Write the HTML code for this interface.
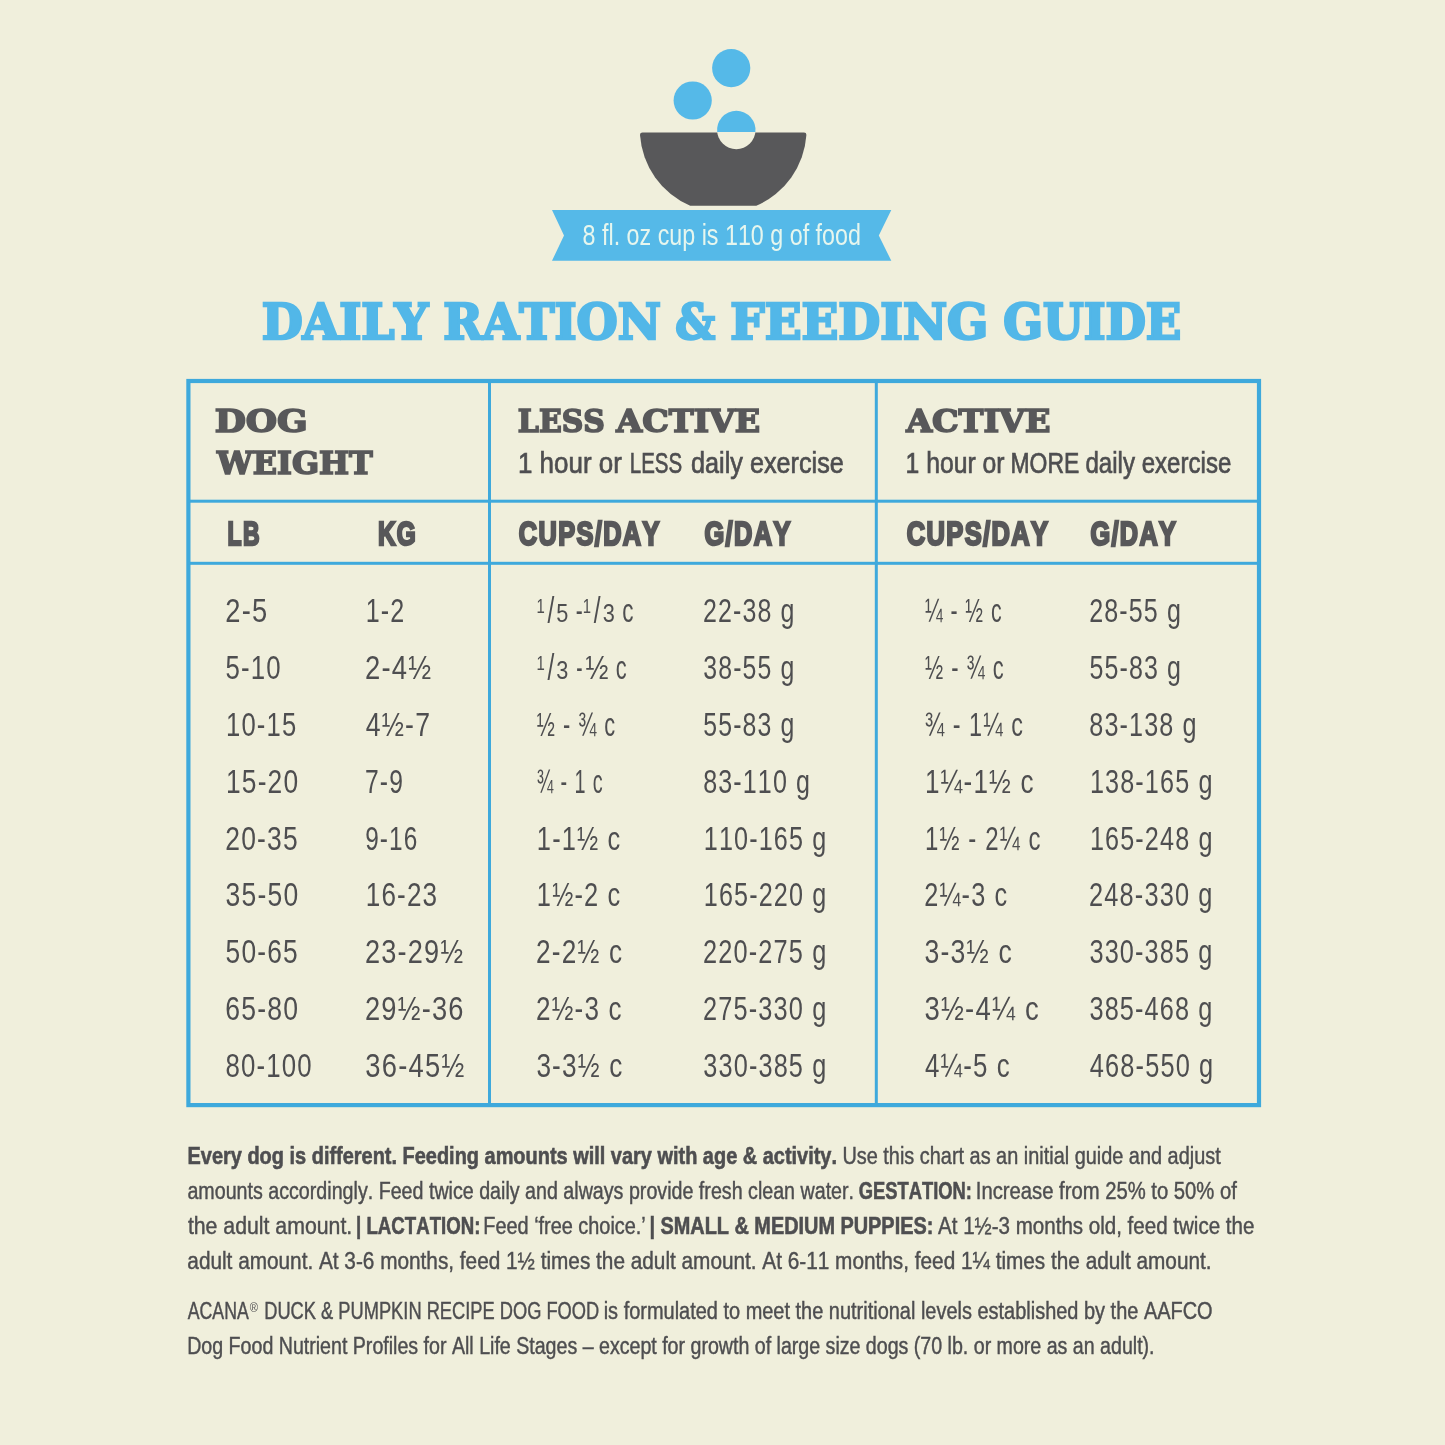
<!DOCTYPE html>
<html lang="en"><head><meta charset="utf-8"><title>Daily Ration &amp; Feeding Guide</title>
<style>
html,body{margin:0;padding:0;background:#f0efdc;}
svg{display:block;}
text{font-kerning:none;white-space:pre;}
.s{font-family:"Liberation Sans",sans-serif;font-weight:400;}
.b{font-family:"Liberation Sans",sans-serif;font-weight:700;}
.k{font-family:"DejaVu Serif","Liberation Serif",serif;font-weight:700;}
</style></head><body>
<svg width="1445" height="1445" viewBox="0 0 1445 1445">
<rect width="1445" height="1445" fill="#f0efdc"/>
<circle cx="731.2" cy="68.1" r="19.1" fill="#55b9e8"/>
<circle cx="692.7" cy="100.5" r="19.1" fill="#55b9e8"/>
<path d="M642.5 132.6 H804 Q806.5 132.6 806.4 135 A83.3 83.3 0 0 1 756.3 205.8 H690.2 A83.3 83.3 0 0 1 640 135 Q639.9 132.6 642.5 132.6 Z" fill="#58585a"/>
<circle cx="736.3" cy="130" r="19.2" fill="#f0efdc"/>
<path d="M717.22 132.1 A19.2 19.2 0 1 1 755.38 132.1 Z" fill="#55b9e8"/>
<path d="M552 209.9 H891.3 L878.8 235.4 L891.3 260.8 H552 L564 235.4 Z" fill="#55b9e8"/>
<text class="s" x="582.59" y="244.70" font-size="30.4" textLength="278.31" lengthAdjust="spacingAndGlyphs" fill="#e6f6ee">8 fl. oz cup is 110 g of food</text>
<text class="k" x="261.64" y="338.55" font-size="47.599451303155014" textLength="166.68" lengthAdjust="spacingAndGlyphs" fill="#52b7e8" stroke="#52b7e8" stroke-width="2.5" stroke-linejoin="miter">DAILY</text>
<text class="k" x="443.33" y="338.55" font-size="47.599451303155014" textLength="217.61" lengthAdjust="spacingAndGlyphs" fill="#52b7e8" stroke="#52b7e8" stroke-width="2.5" stroke-linejoin="miter">RATION</text>
<text class="k" x="675.18" y="338.55" font-size="47.599451303155014" textLength="39.97" lengthAdjust="spacingAndGlyphs" fill="#52b7e8" stroke="#52b7e8" stroke-width="2.5" stroke-linejoin="miter">&amp;</text>
<text class="k" x="730.38" y="338.55" font-size="47.599451303155014" textLength="257.99" lengthAdjust="spacingAndGlyphs" fill="#52b7e8" stroke="#52b7e8" stroke-width="2.5" stroke-linejoin="miter">FEEDING</text>
<text class="k" x="1003.30" y="338.55" font-size="47.599451303155014" textLength="177.94" lengthAdjust="spacingAndGlyphs" fill="#52b7e8" stroke="#52b7e8" stroke-width="2.5" stroke-linejoin="miter">GUIDE</text>
<rect x="188.4" y="381" width="1070.6" height="724.1" fill="none" stroke="#3ea9dc" stroke-width="4.2"/>
<rect x="488.0" y="381" width="3" height="724" fill="#3ea9dc"/>
<rect x="874.8" y="381" width="3" height="724" fill="#3ea9dc"/>
<rect x="188" y="499.7" width="1071" height="3" fill="#3ea9dc"/>
<rect x="188" y="561.8" width="1071" height="3" fill="#3ea9dc"/>
<text class="k" x="214.67" y="432.35" font-size="31.96" textLength="93.13" lengthAdjust="spacingAndGlyphs" fill="#58585a" stroke="#58585a" stroke-width="1.7" stroke-linejoin="miter">DOG</text>
<text class="k" x="217.13" y="473.55" font-size="31.55" textLength="155.65" lengthAdjust="spacingAndGlyphs" fill="#58585a" stroke="#58585a" stroke-width="1.7" stroke-linejoin="miter">WEIGHT</text>
<text class="k" x="517.85" y="432.35" font-size="31.96" textLength="87.10" lengthAdjust="spacingAndGlyphs" fill="#58585a" stroke="#58585a" stroke-width="1.7" stroke-linejoin="miter">LESS</text>
<text class="k" x="616.31" y="432.35" font-size="31.96" textLength="143.95" lengthAdjust="spacingAndGlyphs" fill="#58585a" stroke="#58585a" stroke-width="1.7" stroke-linejoin="miter">ACTIVE</text>
<text class="k" x="906.21" y="432.35" font-size="31.96" textLength="144.15" lengthAdjust="spacingAndGlyphs" fill="#58585a" stroke="#58585a" stroke-width="1.7" stroke-linejoin="miter">ACTIVE</text>
<text class="s" x="517.97" y="473.40" font-size="30.1" textLength="103.91" lengthAdjust="spacingAndGlyphs" fill="#4e4e50" stroke="#4e4e50" stroke-width="0.7">1 hour or</text>
<text class="s" x="629.77" y="473.40" font-size="30.1" textLength="52.42" lengthAdjust="spacingAndGlyphs" fill="#4e4e50" stroke="#4e4e50" stroke-width="0.7">LESS</text>
<text class="s" x="691.09" y="473.40" font-size="30.1" textLength="152.68" lengthAdjust="spacingAndGlyphs" fill="#4e4e50" stroke="#4e4e50" stroke-width="0.7">daily exercise</text>
<text class="s" x="905.57" y="473.40" font-size="30.1" textLength="98.99" lengthAdjust="spacingAndGlyphs" fill="#4e4e50" stroke="#4e4e50" stroke-width="0.7">1 hour or</text>
<text class="s" x="1010.47" y="473.40" font-size="30.1" textLength="68.77" lengthAdjust="spacingAndGlyphs" fill="#4e4e50" stroke="#4e4e50" stroke-width="0.7">MORE</text>
<text class="s" x="1085.44" y="473.40" font-size="30.1" textLength="145.88" lengthAdjust="spacingAndGlyphs" fill="#4e4e50" stroke="#4e4e50" stroke-width="0.7">daily exercise</text>
<text class="b" x="227.61" y="544.75" font-size="33.87" textLength="33.14" lengthAdjust="spacingAndGlyphs" fill="#58585a" stroke="#58585a" stroke-width="2.5" stroke-linejoin="miter" letter-spacing="1.86">LB</text>
<text class="b" x="377.92" y="544.75" font-size="33.87" textLength="39.29" lengthAdjust="spacingAndGlyphs" fill="#58585a" stroke="#58585a" stroke-width="2.5" stroke-linejoin="miter" letter-spacing="1.86">KG</text>
<text class="b" x="518.81" y="544.75" font-size="33.87" textLength="142.04" lengthAdjust="spacingAndGlyphs" fill="#58585a" stroke="#58585a" stroke-width="2.5" stroke-linejoin="miter" letter-spacing="1.86">CUPS/DAY</text>
<text class="b" x="704.41" y="544.75" font-size="33.87" textLength="87.35" lengthAdjust="spacingAndGlyphs" fill="#58585a" stroke="#58585a" stroke-width="2.5" stroke-linejoin="miter" letter-spacing="1.86">G/DAY</text>
<text class="b" x="906.71" y="544.75" font-size="33.87" textLength="142.75" lengthAdjust="spacingAndGlyphs" fill="#58585a" stroke="#58585a" stroke-width="2.5" stroke-linejoin="miter" letter-spacing="1.86">CUPS/DAY</text>
<text class="b" x="1090.41" y="544.75" font-size="33.87" textLength="86.93" lengthAdjust="spacingAndGlyphs" fill="#58585a" stroke="#58585a" stroke-width="2.5" stroke-linejoin="miter" letter-spacing="1.86">G/DAY</text>
<text class="s" x="225.23" y="622.15" font-size="33" textLength="43.15" lengthAdjust="spacingAndGlyphs" fill="#4e4e50" letter-spacing="1.48">2-5</text>
<text class="s" x="225.57" y="678.99" font-size="33" textLength="56.30" lengthAdjust="spacingAndGlyphs" fill="#4e4e50" letter-spacing="1.48">5-10</text>
<text class="s" x="226.05" y="735.83" font-size="33" textLength="71.28" lengthAdjust="spacingAndGlyphs" fill="#4e4e50" letter-spacing="1.48">10-15</text>
<text class="s" x="225.99" y="792.67" font-size="33" textLength="73.32" lengthAdjust="spacingAndGlyphs" fill="#4e4e50" letter-spacing="1.48">15-20</text>
<text class="s" x="225.27" y="849.51" font-size="33" textLength="73.63" lengthAdjust="spacingAndGlyphs" fill="#4e4e50" letter-spacing="1.48">20-35</text>
<text class="s" x="225.59" y="906.35" font-size="33" textLength="73.74" lengthAdjust="spacingAndGlyphs" fill="#4e4e50" letter-spacing="1.48">35-50</text>
<text class="s" x="225.54" y="963.19" font-size="33" textLength="73.35" lengthAdjust="spacingAndGlyphs" fill="#4e4e50" letter-spacing="1.48">50-65</text>
<text class="s" x="225.25" y="1020.03" font-size="33" textLength="73.99" lengthAdjust="spacingAndGlyphs" fill="#4e4e50" letter-spacing="1.48">65-80</text>
<text class="s" x="225.48" y="1076.87" font-size="33" textLength="87.29" lengthAdjust="spacingAndGlyphs" fill="#4e4e50" letter-spacing="1.48">80-100</text>
<text class="s" x="365.79" y="622.15" font-size="33" textLength="39.60" lengthAdjust="spacingAndGlyphs" fill="#4e4e50" letter-spacing="1.48">1-2</text>
<text class="s" x="364.92" y="678.99" font-size="33" textLength="67.45" lengthAdjust="spacingAndGlyphs" fill="#4e4e50" letter-spacing="1.48">2-4½</text>
<text class="s" x="365.69" y="735.83" font-size="33" textLength="65.45" lengthAdjust="spacingAndGlyphs" fill="#4e4e50" letter-spacing="1.48">4½-7</text>
<text class="s" x="365.04" y="792.67" font-size="33" textLength="38.94" lengthAdjust="spacingAndGlyphs" fill="#4e4e50" letter-spacing="1.48">7-9</text>
<text class="s" x="365.16" y="849.51" font-size="33" textLength="53.21" lengthAdjust="spacingAndGlyphs" fill="#4e4e50" letter-spacing="1.48">9-16</text>
<text class="s" x="365.72" y="906.35" font-size="33" textLength="72.50" lengthAdjust="spacingAndGlyphs" fill="#4e4e50" letter-spacing="1.48">16-23</text>
<text class="s" x="364.94" y="963.19" font-size="33" textLength="99.31" lengthAdjust="spacingAndGlyphs" fill="#4e4e50" letter-spacing="1.48">23-29½</text>
<text class="s" x="364.93" y="1020.03" font-size="33" textLength="99.79" lengthAdjust="spacingAndGlyphs" fill="#4e4e50" letter-spacing="1.48">29½-36</text>
<text class="s" x="365.26" y="1076.87" font-size="33" textLength="100.21" lengthAdjust="spacingAndGlyphs" fill="#4e4e50" letter-spacing="1.48">36-45½</text>
<text class="s" x="536.81" y="735.83" font-size="33" textLength="79.35" lengthAdjust="spacingAndGlyphs" fill="#4e4e50" letter-spacing="1.48">½ - ¾ c</text>
<text class="s" x="536.69" y="792.67" font-size="33" textLength="66.82" lengthAdjust="spacingAndGlyphs" fill="#4e4e50" letter-spacing="1.48">¾ - 1 c</text>
<text class="s" x="536.86" y="849.51" font-size="33" textLength="84.55" lengthAdjust="spacingAndGlyphs" fill="#4e4e50" letter-spacing="1.48">1-1½ c</text>
<text class="s" x="536.86" y="906.35" font-size="33" textLength="84.55" lengthAdjust="spacingAndGlyphs" fill="#4e4e50" letter-spacing="1.48">1½-2 c</text>
<text class="s" x="536.08" y="963.19" font-size="33" textLength="87.08" lengthAdjust="spacingAndGlyphs" fill="#4e4e50" letter-spacing="1.48">2-2½ c</text>
<text class="s" x="536.09" y="1020.03" font-size="33" textLength="86.57" lengthAdjust="spacingAndGlyphs" fill="#4e4e50" letter-spacing="1.48">2½-3 c</text>
<text class="s" x="536.40" y="1076.87" font-size="33" textLength="87.06" lengthAdjust="spacingAndGlyphs" fill="#4e4e50" letter-spacing="1.48">3-3½ c</text>
<text class="s" x="703.05" y="622.15" font-size="33" textLength="92.38" lengthAdjust="spacingAndGlyphs" fill="#4e4e50" letter-spacing="1.48">22-38 g</text>
<text class="s" x="703.35" y="678.99" font-size="33" textLength="92.06" lengthAdjust="spacingAndGlyphs" fill="#4e4e50" letter-spacing="1.48">38-55 g</text>
<text class="s" x="703.30" y="735.83" font-size="33" textLength="92.12" lengthAdjust="spacingAndGlyphs" fill="#4e4e50" letter-spacing="1.48">55-83 g</text>
<text class="s" x="703.21" y="792.67" font-size="33" textLength="107.93" lengthAdjust="spacingAndGlyphs" fill="#4e4e50" letter-spacing="1.48">83-110 g</text>
<text class="s" x="703.78" y="849.51" font-size="33" textLength="123.57" lengthAdjust="spacingAndGlyphs" fill="#4e4e50" letter-spacing="1.48">110-165 g</text>
<text class="s" x="703.78" y="906.35" font-size="33" textLength="123.57" lengthAdjust="spacingAndGlyphs" fill="#4e4e50" letter-spacing="1.48">165-220 g</text>
<text class="s" x="703.03" y="963.19" font-size="33" textLength="124.35" lengthAdjust="spacingAndGlyphs" fill="#4e4e50" letter-spacing="1.48">220-275 g</text>
<text class="s" x="703.03" y="1020.03" font-size="33" textLength="124.35" lengthAdjust="spacingAndGlyphs" fill="#4e4e50" letter-spacing="1.48">275-330 g</text>
<text class="s" x="703.34" y="1076.87" font-size="33" textLength="124.03" lengthAdjust="spacingAndGlyphs" fill="#4e4e50" letter-spacing="1.48">330-385 g</text>
<text class="s" x="924.92" y="622.15" font-size="33" textLength="77.60" lengthAdjust="spacingAndGlyphs" fill="#4e4e50" letter-spacing="1.48">¼ - ½ c</text>
<text class="s" x="924.90" y="678.99" font-size="33" textLength="79.76" lengthAdjust="spacingAndGlyphs" fill="#4e4e50" letter-spacing="1.48">½ - ¾ c</text>
<text class="s" x="924.67" y="735.83" font-size="33" textLength="99.30" lengthAdjust="spacingAndGlyphs" fill="#4e4e50" letter-spacing="1.48">¾ - 1¼ c</text>
<text class="s" x="924.91" y="792.67" font-size="33" textLength="109.75" lengthAdjust="spacingAndGlyphs" fill="#4e4e50" letter-spacing="1.48">1¼-1½ c</text>
<text class="s" x="925.07" y="849.51" font-size="33" textLength="116.54" lengthAdjust="spacingAndGlyphs" fill="#4e4e50" letter-spacing="1.48">1½ - 2¼ c</text>
<text class="s" x="924.23" y="906.35" font-size="33" textLength="84.07" lengthAdjust="spacingAndGlyphs" fill="#4e4e50" letter-spacing="1.48">2¼-3 c</text>
<text class="s" x="924.49" y="963.19" font-size="33" textLength="88.41" lengthAdjust="spacingAndGlyphs" fill="#4e4e50" letter-spacing="1.48">3-3½ c</text>
<text class="s" x="924.45" y="1020.03" font-size="33" textLength="115.61" lengthAdjust="spacingAndGlyphs" fill="#4e4e50" letter-spacing="1.48">3½-4¼ c</text>
<text class="s" x="924.91" y="1076.87" font-size="33" textLength="86.04" lengthAdjust="spacingAndGlyphs" fill="#4e4e50" letter-spacing="1.48">4¼-5 c</text>
<text class="s" x="1089.14" y="622.15" font-size="33" textLength="92.90" lengthAdjust="spacingAndGlyphs" fill="#4e4e50" letter-spacing="1.48">28-55 g</text>
<text class="s" x="1089.40" y="678.99" font-size="33" textLength="92.64" lengthAdjust="spacingAndGlyphs" fill="#4e4e50" letter-spacing="1.48">55-83 g</text>
<text class="s" x="1089.31" y="735.83" font-size="33" textLength="108.45" lengthAdjust="spacingAndGlyphs" fill="#4e4e50" letter-spacing="1.48">83-138 g</text>
<text class="s" x="1089.88" y="792.67" font-size="33" textLength="123.68" lengthAdjust="spacingAndGlyphs" fill="#4e4e50" letter-spacing="1.48">138-165 g</text>
<text class="s" x="1089.88" y="849.51" font-size="33" textLength="123.68" lengthAdjust="spacingAndGlyphs" fill="#4e4e50" letter-spacing="1.48">165-248 g</text>
<text class="s" x="1089.12" y="906.35" font-size="33" textLength="124.45" lengthAdjust="spacingAndGlyphs" fill="#4e4e50" letter-spacing="1.48">248-330 g</text>
<text class="s" x="1089.44" y="963.19" font-size="33" textLength="124.13" lengthAdjust="spacingAndGlyphs" fill="#4e4e50" letter-spacing="1.48">330-385 g</text>
<text class="s" x="1089.44" y="1020.03" font-size="33" textLength="124.13" lengthAdjust="spacingAndGlyphs" fill="#4e4e50" letter-spacing="1.48">385-468 g</text>
<text class="s" x="1089.82" y="1076.87" font-size="33" textLength="124.56" lengthAdjust="spacingAndGlyphs" fill="#4e4e50" letter-spacing="1.48">468-550 g</text>
<text class="s" x="536.47" y="612.95" font-size="20.5" textLength="8.26" lengthAdjust="spacingAndGlyphs" fill="#4e4e50">1</text>
<text class="s" x="547.40" y="623.45" font-size="36" textLength="6.80" lengthAdjust="spacingAndGlyphs" fill="#4e4e50">/</text>
<text class="s" x="556.23" y="622.15" font-size="26" textLength="12.08" lengthAdjust="spacingAndGlyphs" fill="#4e4e50">5</text>
<text class="s" x="575.77" y="622.15" font-size="33" textLength="6.96" lengthAdjust="spacingAndGlyphs" fill="#4e4e50">-</text>
<text class="s" x="582.87" y="612.95" font-size="20.5" textLength="8.26" lengthAdjust="spacingAndGlyphs" fill="#4e4e50">1</text>
<text class="s" x="593.80" y="623.45" font-size="36" textLength="6.80" lengthAdjust="spacingAndGlyphs" fill="#4e4e50">/</text>
<text class="s" x="602.67" y="622.15" font-size="26" textLength="12.08" lengthAdjust="spacingAndGlyphs" fill="#4e4e50">3</text>
<text class="s" x="622.24" y="622.15" font-size="33" textLength="11.25" lengthAdjust="spacingAndGlyphs" fill="#4e4e50">c</text>
<text class="s" x="536.47" y="669.79" font-size="20.5" textLength="8.26" lengthAdjust="spacingAndGlyphs" fill="#4e4e50">1</text>
<text class="s" x="547.40" y="680.29" font-size="36" textLength="6.80" lengthAdjust="spacingAndGlyphs" fill="#4e4e50">/</text>
<text class="s" x="556.27" y="678.99" font-size="26" textLength="12.08" lengthAdjust="spacingAndGlyphs" fill="#4e4e50">3</text>
<text class="s" x="576.36" y="678.99" font-size="33" textLength="6.27" lengthAdjust="spacingAndGlyphs" fill="#4e4e50">-</text>
<text class="s" x="585.45" y="678.99" font-size="33" textLength="22.99" lengthAdjust="spacingAndGlyphs" fill="#4e4e50">½</text>
<text class="s" x="615.77" y="678.99" font-size="33" textLength="10.90" lengthAdjust="spacingAndGlyphs" fill="#4e4e50">c</text>
<text class="b" x="187.57" y="1164.10" font-size="24.4" textLength="649.41" lengthAdjust="spacingAndGlyphs" fill="#4e4e50" stroke="#4e4e50" stroke-width="0.6">Every dog is different. Feeding amounts will vary with age &amp; activity.</text>
<text class="s" x="842.39" y="1164.15" font-size="24.55" textLength="378.33" lengthAdjust="spacingAndGlyphs" fill="#4e4e50" stroke="#4e4e50" stroke-width="0.45">Use this chart as an initial guide and adjust</text>
<text class="s" x="187.39" y="1199.45" font-size="24.55" textLength="666.68" lengthAdjust="spacingAndGlyphs" fill="#4e4e50" stroke="#4e4e50" stroke-width="0.45">amounts accordingly. Feed twice daily and always provide fresh clean water.</text>
<text class="b" x="858.75" y="1199.40" font-size="24.4" textLength="113.12" lengthAdjust="spacingAndGlyphs" fill="#4e4e50" stroke="#4e4e50" stroke-width="0.6">GESTATION:</text>
<text class="s" x="975.76" y="1199.45" font-size="24.55" textLength="261.09" lengthAdjust="spacingAndGlyphs" fill="#4e4e50" stroke="#4e4e50" stroke-width="0.45">Increase from 25% to 50% of</text>
<text class="s" x="187.90" y="1234.45" font-size="24.55" textLength="164.31" lengthAdjust="spacingAndGlyphs" fill="#4e4e50" stroke="#4e4e50" stroke-width="0.45">the adult amount.</text>
<text class="b" x="356.08" y="1234.40" font-size="24.4" textLength="124.31" lengthAdjust="spacingAndGlyphs" fill="#4e4e50" stroke="#4e4e50" stroke-width="0.6">| LACTATION:</text>
<text class="s" x="483.29" y="1234.45" font-size="24.55" textLength="162.51" lengthAdjust="spacingAndGlyphs" fill="#4e4e50" stroke="#4e4e50" stroke-width="0.45">Feed ‘free choice.’</text>
<text class="b" x="649.39" y="1234.40" font-size="24.4" textLength="283.93" lengthAdjust="spacingAndGlyphs" fill="#4e4e50" stroke="#4e4e50" stroke-width="0.6">| SMALL &amp; MEDIUM PUPPIES:</text>
<text class="s" x="938.08" y="1234.45" font-size="24.55" textLength="316.30" lengthAdjust="spacingAndGlyphs" fill="#4e4e50" stroke="#4e4e50" stroke-width="0.45">At 1½-3 months old, feed twice the</text>
<text class="s" x="187.34" y="1269.35" font-size="24.55" textLength="1024.23" lengthAdjust="spacingAndGlyphs" fill="#4e4e50" stroke="#4e4e50" stroke-width="0.45">adult amount. At 3-6 months, feed 1½ times the adult amount. At 6-11 months, feed 1¼ times the adult amount.</text>
<text class="s" x="187.79" y="1319.25" font-size="24.55" textLength="60.92" lengthAdjust="spacingAndGlyphs" fill="#4e4e50" stroke="#4e4e50" stroke-width="0.45">ACANA</text>
<text class="s" x="264.23" y="1319.25" font-size="24.55" textLength="335.02" lengthAdjust="spacingAndGlyphs" fill="#4e4e50" stroke="#4e4e50" stroke-width="0.45">DUCK &amp; PUMPKIN RECIPE DOG FOOD</text>
<text class="s" x="603.69" y="1319.25" font-size="24.55" textLength="608.94" lengthAdjust="spacingAndGlyphs" fill="#4e4e50" stroke="#4e4e50" stroke-width="0.45">is formulated to meet the nutritional levels established by the AAFCO</text>
<text class="s" x="249.63" y="1311.90" font-size="13" textLength="8.24" lengthAdjust="spacingAndGlyphs" fill="#4e4e50">®</text>
<text class="s" x="187.22" y="1354.05" font-size="24.55" textLength="967.35" lengthAdjust="spacingAndGlyphs" fill="#4e4e50" stroke="#4e4e50" stroke-width="0.45">Dog Food Nutrient Profiles for All Life Stages – except for growth of large size dogs (70 lb. or more as an adult).</text>
</svg>
</body></html>
